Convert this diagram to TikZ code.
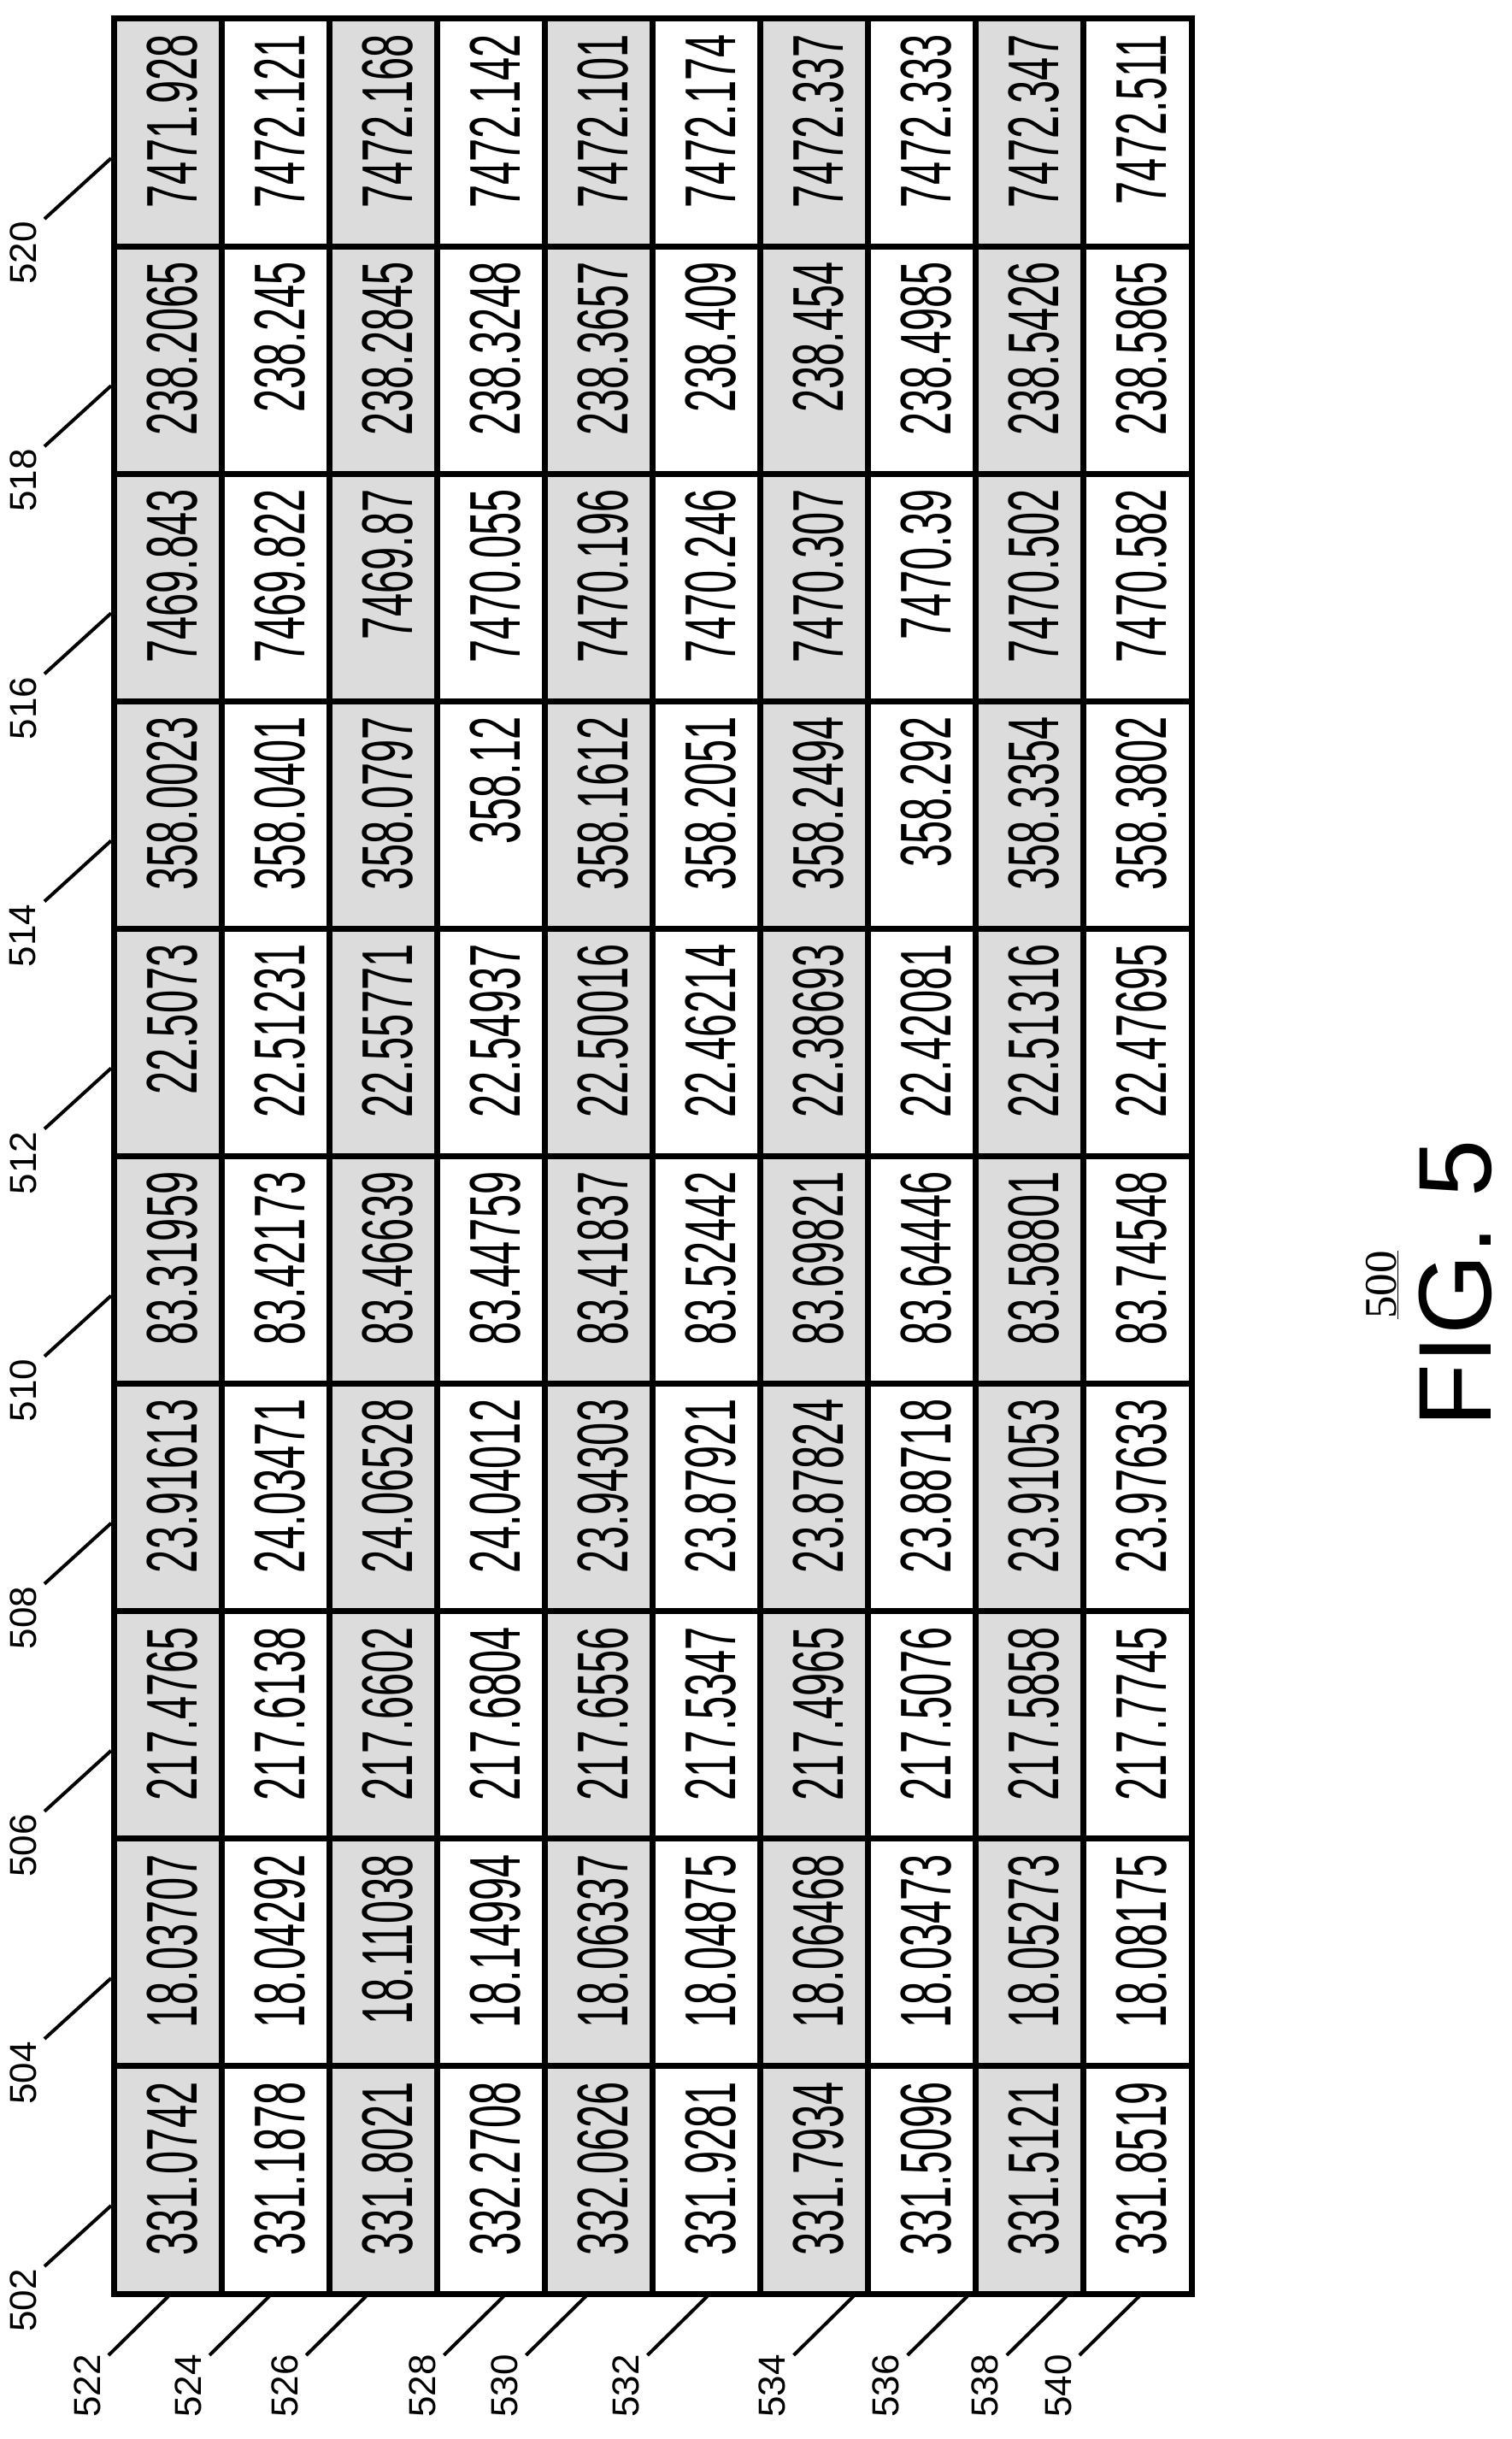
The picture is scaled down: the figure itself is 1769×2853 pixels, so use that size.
\documentclass[tikz,border=0pt]{standalone}
\usepackage{fontspec}
\setmainfont{Liberation Sans}
\newfontfamily\numfont[FakeStretch=0.58]{Liberation Sans}
\newfontfamily\serfont{Liberation Serif}
\definecolor{cellgray}{HTML}{DCDCDC}
\begin{document}
\begin{tikzpicture}[x=1pt,y=-1pt,
  num/.style={rotate=90,anchor=base east,inner sep=0pt,font=\fontsize{84}{84}\numfont},
  lab/.style={rotate=90,anchor=center,inner sep=0pt,font=\fontsize{44}{44}\selectfont},
  grid/.style={line width=7pt},
  lead/.style={line width=4pt}]
\useasboundingbox (0,0) rectangle (1769,2853);
% shaded rows
\foreach \r in {0,2,4,6,8}{
  \fill[cellgray] ({133+126.1*\r},22) rectangle ({133+126.1*(\r+1)},2683);
}
% grid
\foreach \r in {1,...,9}{
  \draw[grid] ({133+126.1*\r},22) -- ({133+126.1*\r},2683);
}
\foreach \k in {1,...,9}{
  \draw[grid] (133,{2683-266.1*\k}) -- (1394,{2683-266.1*\k});
}
\draw[grid] (133,22) rectangle (1394,2683);
% data
\foreach \row [count=\r from 0] in {
 {331.0742,18.03707,217.4765,23.91613,83.31959,22.5073,358.0023,7469.843,238.2065,7471.928},
 {331.1878,18.04292,217.6138,24.03471,83.42173,22.51231,358.0401,7469.822,238.245,7472.121},
 {331.8021,18.11038,217.6602,24.06528,83.46639,22.55771,358.0797,7469.87,238.2845,7472.168},
 {332.2708,18.14994,217.6804,24.04012,83.44759,22.54937,358.12,7470.055,238.3248,7472.142},
 {332.0626,18.06337,217.6556,23.94303,83.41837,22.50016,358.1612,7470.196,238.3657,7472.101},
 {331.9281,18.04875,217.5347,23.87921,83.52442,22.46214,358.2051,7470.246,238.409,7472.174},
 {331.7934,18.06468,217.4965,23.87824,83.69821,22.38693,358.2494,7470.307,238.454,7472.337},
 {331.5096,18.03473,217.5076,23.88718,83.64446,22.42081,358.292,7470.39,238.4985,7472.333},
 {331.5121,18.05273,217.5858,23.91053,83.58801,22.51316,358.3354,7470.502,238.5426,7472.347},
 {331.8519,18.08175,217.7745,23.97633,83.74548,22.47695,358.3802,7470.582,238.5865,7472.511}}{
  \foreach \v [count=\k from 0] in \row {
    \node[num] (c\r-\k) at ({133+126.1*\r+97},{2683-266.1*(\k+1)+18}) {\v};
  }
}
% column labels 502..520
\foreach \k in {0,...,9}{
  \pgfmathtruncatemacro{\n}{502+2*\k}
  \node[lab] (col\n) at (27,{2683-266.1*\k+8}) {\n};
  \coordinate (cs\n) at (52,{2683-266.1*\k-32});
  \coordinate (ce\n) at (130,{2683-266.1*\k-103});
  \draw[lead] (cs\n) -- (ce\n);
}
% row labels 522..540
\foreach \off [count=\r from 0] in {-31,-39,-52,-17,-47,-31,14,21,11,-30}{
  \pgfmathtruncatemacro{\n}{522+2*\r}
  \pgfmathsetmacro{\lx}{133+126.1*\r+\off}
  \node[lab] (row\n) at (\lx,2791) {\n};
  \coordinate (rs\n) at (\lx+25,2755);
  \coordinate (re\n) at (\lx+95,2686);
  \draw[lead] (rs\n) -- (re\n);
}
% caption
\node[rotate=90,inner sep=0pt,font=\fontsize{121}{121}\selectfont] (fig) at (1703,1501) {FIG. 5};
\node[rotate=90,anchor=base,inner sep=0pt,font=\fontsize{53}{53}\serfont] (num) at (1633,1503) {\underline{500}};
\end{tikzpicture}
\end{document}
